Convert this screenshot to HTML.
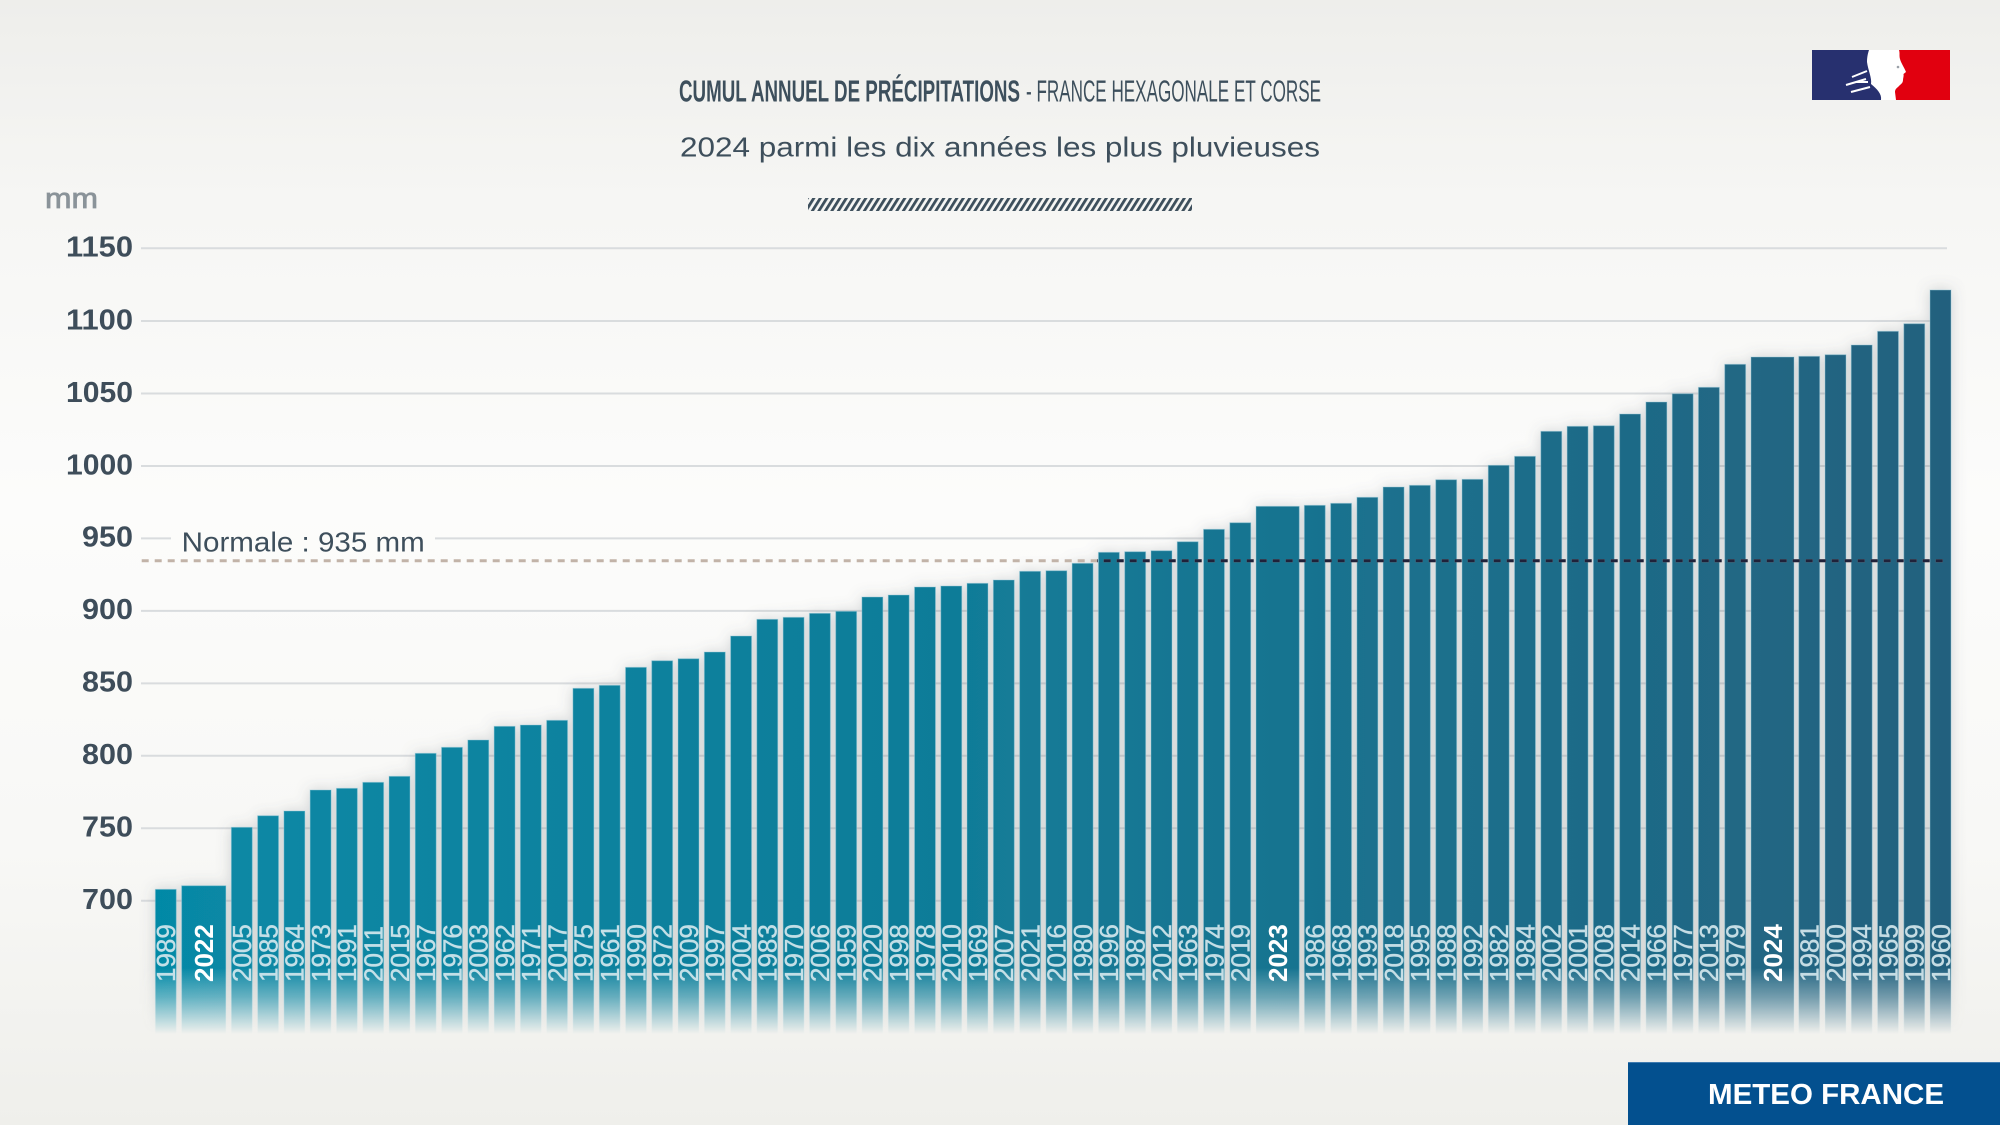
<!DOCTYPE html>
<html lang="fr">
<head>
<meta charset="utf-8">
<title>Cumul annuel de précipitations - France hexagonale et Corse</title>
<style>
  html,body{margin:0;padding:0;background:#f4f4f2;}
  body{width:2000px;height:1125px;overflow:hidden;}
  svg{display:block;font-family:"Liberation Sans",Arial,sans-serif;}
  .yl{font-size:29px;font-weight:bold;fill:#3e4d5a;text-anchor:end;}
  .yr{font-size:26px;fill:#d6e9ee;fill-opacity:0.9;stroke:#d6e9ee;stroke-opacity:0.6;stroke-width:0.6;}
  .yb{font-size:26px;fill:#ffffff;font-weight:bold;}
</style>
</head>
<body>
<svg width="2000" height="1125" viewBox="0 0 2000 1125" xmlns="http://www.w3.org/2000/svg">
  <defs>
    <linearGradient id="bg" x1="0" y1="0" x2="0" y2="1">
      <stop offset="0" stop-color="#eeeeeb"/>
      <stop offset="0.18" stop-color="#f6f6f4"/>
      <stop offset="0.45" stop-color="#fcfcfb"/>
      <stop offset="0.75" stop-color="#f8f8f6"/>
      <stop offset="1" stop-color="#efefeb"/>
    </linearGradient>
    <linearGradient id="bc" gradientUnits="userSpaceOnUse" x1="155" y1="0" x2="1951" y2="0">
      <stop offset="0" stop-color="#0689a6"/>
      <stop offset="0.45" stop-color="#117c98"/>
      <stop offset="0.7" stop-color="#1b708d"/>
      <stop offset="1" stop-color="#24617e"/>
    </linearGradient>
    <linearGradient id="fg" gradientUnits="userSpaceOnUse" x1="0" y1="968" x2="0" y2="1034">
      <stop offset="0" stop-color="#fff"/>
      <stop offset="0.45" stop-color="#9a9a9a"/>
      <stop offset="1" stop-color="#000"/>
    </linearGradient>
    <mask id="fade" maskUnits="userSpaceOnUse" x="0" y="0" width="2000" height="1125">
      <rect x="0" y="0" width="2000" height="1125" fill="url(#fg)"/>
    </mask>
    <filter id="sh" x="-5%" y="-10%" width="110%" height="125%">
      <feGaussianBlur in="SourceAlpha" stdDeviation="7"/>
      <feColorMatrix type="matrix" values="0 0 0 0 0.1  0 0 0 0 0.12  0 0 0 0 0.15  0 0 0 0.26 0"/>
      <feMerge><feMergeNode/><feMergeNode in="SourceGraphic"/></feMerge>
    </filter>
    <pattern id="hatch" patternUnits="userSpaceOnUse" width="6.5" height="13" patternTransform="skewX(-32)">
      <rect x="0" y="0" width="3.3" height="13" fill="#3d4f5c"/>
    </pattern>
    <clipPath id="darkclip"><rect x="1097" y="550" width="860" height="20"/></clipPath>
  </defs>

  <!-- background -->
  <rect x="0" y="0" width="2000" height="1125" fill="url(#bg)"/>

  <!-- title -->
  <text x="679" y="101.7" font-size="31" font-weight="bold" fill="#3d4f5c" textLength="341" lengthAdjust="spacingAndGlyphs">CUMUL ANNUEL DE PRÉCIPITATIONS</text>
  <text x="1026" y="101.7" font-size="31" fill="#3d4f5c" textLength="295" lengthAdjust="spacingAndGlyphs">- FRANCE HEXAGONALE ET CORSE</text>
  <text x="680" y="156.7" font-size="28" fill="#3e4f5c" textLength="640" lengthAdjust="spacingAndGlyphs">2024 parmi les dix années les plus pluvieuses</text>
  <rect x="808" y="198" width="384" height="13" fill="url(#hatch)"/>

  <!-- flag logo -->
  <rect x="1812" y="50" width="72" height="50" fill="#27306f"/>
  <rect x="1882" y="50" width="68" height="50" fill="#e1000f"/>
  <path d="M1869,50 L1899,50 C1900,53 1899,56 1900,59 C1901,63 1904,67 1906,72 L1903.5,74 C1904,76 1903,78 1903,80 C1903,83 1901,84 1899,86 C1897,88 1895,89 1895,92 L1896,100 L1881,100 C1882,94 1877,89 1871,84 C1872,78 1868,70 1867,62 C1867,57 1868,53 1869,50 Z" fill="#ffffff"/>
  <path d="M1852,77 L1867,71 M1846,85 L1866,79 M1851,92 L1870,87 M1856,82 L1868,82" stroke="#ffffff" stroke-width="2" fill="none"/>
  <circle cx="1898" cy="67" r="1.3" fill="#9aa0a8"/>

  <!-- y unit -->
  <text x="45" y="208" font-size="29" fill="#8a9399" stroke="#8a9399" stroke-width="0.8" textLength="53" lengthAdjust="spacingAndGlyphs">mm</text>

  <!-- gridlines -->
  <g stroke="#d9dcde" stroke-width="2">
    <line x1="141" y1="248.3" x2="1947" y2="248.3"/>
    <line x1="141" y1="321" x2="1947" y2="321"/>
    <line x1="141" y1="393.5" x2="1947" y2="393.5"/>
    <line x1="141" y1="466" x2="1947" y2="466"/>
    <line x1="141" y1="538.4" x2="171" y2="538.4"/>
    <line x1="435" y1="538.4" x2="1947" y2="538.4"/>
    <line x1="141" y1="610.9" x2="1947" y2="610.9"/>
    <line x1="141" y1="683.4" x2="1947" y2="683.4"/>
    <line x1="141" y1="755.8" x2="1947" y2="755.8"/>
    <line x1="141" y1="828.3" x2="1947" y2="828.3"/>
    <line x1="141" y1="900.7" x2="1947" y2="900.7"/>
  </g>

  <!-- y labels -->
  <text class="yl" x="133" y="256.6" textLength="67" lengthAdjust="spacingAndGlyphs">1150</text>
  <text class="yl" x="133" y="329.3" textLength="67" lengthAdjust="spacingAndGlyphs">1100</text>
  <text class="yl" x="133" y="401.8" textLength="67" lengthAdjust="spacingAndGlyphs">1050</text>
  <text class="yl" x="133" y="474.3" textLength="67" lengthAdjust="spacingAndGlyphs">1000</text>
  <text class="yl" x="133" y="546.7" textLength="51" lengthAdjust="spacingAndGlyphs">950</text>
  <text class="yl" x="133" y="619.2" textLength="51" lengthAdjust="spacingAndGlyphs">900</text>
  <text class="yl" x="133" y="691.7" textLength="51" lengthAdjust="spacingAndGlyphs">850</text>
  <text class="yl" x="133" y="764.1" textLength="51" lengthAdjust="spacingAndGlyphs">800</text>
  <text class="yl" x="133" y="836.6" textLength="51" lengthAdjust="spacingAndGlyphs">750</text>
  <text class="yl" x="133" y="909" textLength="51" lengthAdjust="spacingAndGlyphs">700</text>

  <!-- bars -->
  <g mask="url(#fade)">
   <g filter="url(#sh)" fill="url(#bc)" stroke="rgba(150,200,214,0.45)" stroke-width="1">
    <rect x="155.3" y="889.3" width="21" height="146.7"/>
    <rect x="181.6" y="885.7" width="44.3" height="150.3"/>
    <rect x="231.3" y="827.3" width="21" height="208.7"/>
    <rect x="257.6" y="815.7" width="21" height="220.3"/>
    <rect x="283.9" y="811" width="21" height="225"/>
    <rect x="310.1" y="790" width="21" height="246"/>
    <rect x="336.4" y="788.3" width="21" height="247.7"/>
    <rect x="362.7" y="782.3" width="21" height="253.7"/>
    <rect x="389.0" y="776.3" width="21" height="259.7"/>
    <rect x="415.2" y="753.3" width="21" height="282.7"/>
    <rect x="441.5" y="747.3" width="21" height="288.7"/>
    <rect x="467.8" y="740" width="21" height="296"/>
    <rect x="494.1" y="726.3" width="21" height="309.7"/>
    <rect x="520.3" y="725" width="21" height="311"/>
    <rect x="546.6" y="720.3" width="21" height="315.7"/>
    <rect x="572.9" y="688.3" width="21" height="347.7"/>
    <rect x="599.2" y="685.3" width="21" height="350.7"/>
    <rect x="625.5" y="667.3" width="21" height="368.7"/>
    <rect x="651.7" y="660.7" width="21" height="375.3"/>
    <rect x="678.0" y="658.7" width="21" height="377.3"/>
    <rect x="704.3" y="652" width="21" height="384"/>
    <rect x="730.6" y="636" width="21" height="400"/>
    <rect x="756.8" y="619.3" width="21" height="416.7"/>
    <rect x="783.1" y="617.3" width="21" height="418.7"/>
    <rect x="809.4" y="613.3" width="21" height="422.7"/>
    <rect x="835.7" y="611.3" width="21" height="424.7"/>
    <rect x="861.9" y="597" width="21" height="439"/>
    <rect x="888.2" y="595" width="21" height="441"/>
    <rect x="914.5" y="587" width="21" height="449"/>
    <rect x="940.8" y="586" width="21" height="450"/>
    <rect x="967.0" y="583.3" width="21" height="452.7"/>
    <rect x="993.3" y="580" width="21" height="456"/>
    <rect x="1019.6" y="571.3" width="21" height="464.7"/>
    <rect x="1045.9" y="570.7" width="21" height="465.3"/>
    <rect x="1072.1" y="563.3" width="21" height="472.7"/>
    <rect x="1098.4" y="552.3" width="21" height="483.7"/>
    <rect x="1124.7" y="551.7" width="21" height="484.3"/>
    <rect x="1151.0" y="550.7" width="21" height="485.3"/>
    <rect x="1177.2" y="541.7" width="21" height="494.3"/>
    <rect x="1203.5" y="529.3" width="21" height="506.7"/>
    <rect x="1229.8" y="522.7" width="21" height="513.3"/>
    <rect x="1256" y="506.3" width="43.3" height="529.7"/>
    <rect x="1304.3" y="505.3" width="21" height="530.7"/>
    <rect x="1330.6" y="503.3" width="21" height="532.7"/>
    <rect x="1356.9" y="497.3" width="21" height="538.7"/>
    <rect x="1383.1" y="487" width="21" height="549"/>
    <rect x="1409.4" y="485.3" width="21" height="550.7"/>
    <rect x="1435.7" y="479.7" width="21" height="556.3"/>
    <rect x="1462.0" y="479.3" width="21" height="556.7"/>
    <rect x="1488.2" y="465.3" width="21" height="570.7"/>
    <rect x="1514.5" y="456.3" width="21" height="579.7"/>
    <rect x="1540.8" y="431.3" width="21" height="604.7"/>
    <rect x="1567.1" y="426.3" width="21" height="609.7"/>
    <rect x="1593.3" y="425.7" width="21" height="610.3"/>
    <rect x="1619.6" y="414" width="21" height="622"/>
    <rect x="1645.9" y="402" width="21" height="634"/>
    <rect x="1672.2" y="393.7" width="21" height="642.3"/>
    <rect x="1698.4" y="387.3" width="21" height="648.7"/>
    <rect x="1724.7" y="364.3" width="21" height="671.7"/>
    <rect x="1751" y="357" width="43" height="679"/>
    <rect x="1798.7" y="356.3" width="21" height="679.7"/>
    <rect x="1825.0" y="354.7" width="21" height="681.3"/>
    <rect x="1851.2" y="345" width="21" height="691"/>
    <rect x="1877.5" y="331.3" width="21" height="704.7"/>
    <rect x="1903.8" y="323.7" width="21" height="712.3"/>
    <rect x="1930.0" y="290" width="21" height="746"/>
   </g>
  </g>

  <!-- normale -->
  <text x="181.7" y="551.7" font-size="28" fill="#3e4f5c" textLength="243" lengthAdjust="spacingAndGlyphs">Normale : 935 mm</text>
  <line x1="141.7" y1="560.7" x2="1947" y2="560.7" stroke="#c2b3a8" stroke-width="3" stroke-dasharray="7 6"/>
  <line x1="141.7" y1="560.7" x2="1947" y2="560.7" stroke="#20223a" stroke-width="3" stroke-dasharray="7 6" clip-path="url(#darkclip)"/>

  <!-- year labels -->
  <g>
    <text class="yr" transform="translate(165.8,982) rotate(-90)" dy="9.3">1989</text>
    <text class="yb" transform="translate(203.75,982) rotate(-90)" dy="9.3">2022</text>
    <text class="yr" transform="translate(241.8,982) rotate(-90)" dy="9.3">2005</text>
    <text class="yr" transform="translate(268.1,982) rotate(-90)" dy="9.3">1985</text>
    <text class="yr" transform="translate(294.4,982) rotate(-90)" dy="9.3">1964</text>
    <text class="yr" transform="translate(320.6,982) rotate(-90)" dy="9.3">1973</text>
    <text class="yr" transform="translate(346.9,982) rotate(-90)" dy="9.3">1991</text>
    <text class="yr" transform="translate(373.2,982) rotate(-90)" dy="9.3">2011</text>
    <text class="yr" transform="translate(399.5,982) rotate(-90)" dy="9.3">2015</text>
    <text class="yr" transform="translate(425.7,982) rotate(-90)" dy="9.3">1967</text>
    <text class="yr" transform="translate(452.0,982) rotate(-90)" dy="9.3">1976</text>
    <text class="yr" transform="translate(478.3,982) rotate(-90)" dy="9.3">2003</text>
    <text class="yr" transform="translate(504.6,982) rotate(-90)" dy="9.3">1962</text>
    <text class="yr" transform="translate(530.8,982) rotate(-90)" dy="9.3">1971</text>
    <text class="yr" transform="translate(557.1,982) rotate(-90)" dy="9.3">2017</text>
    <text class="yr" transform="translate(583.4,982) rotate(-90)" dy="9.3">1975</text>
    <text class="yr" transform="translate(609.7,982) rotate(-90)" dy="9.3">1961</text>
    <text class="yr" transform="translate(636.0,982) rotate(-90)" dy="9.3">1990</text>
    <text class="yr" transform="translate(662.2,982) rotate(-90)" dy="9.3">1972</text>
    <text class="yr" transform="translate(688.5,982) rotate(-90)" dy="9.3">2009</text>
    <text class="yr" transform="translate(714.8,982) rotate(-90)" dy="9.3">1997</text>
    <text class="yr" transform="translate(741.1,982) rotate(-90)" dy="9.3">2004</text>
    <text class="yr" transform="translate(767.3,982) rotate(-90)" dy="9.3">1983</text>
    <text class="yr" transform="translate(793.6,982) rotate(-90)" dy="9.3">1970</text>
    <text class="yr" transform="translate(819.9,982) rotate(-90)" dy="9.3">2006</text>
    <text class="yr" transform="translate(846.2,982) rotate(-90)" dy="9.3">1959</text>
    <text class="yr" transform="translate(872.4,982) rotate(-90)" dy="9.3">2020</text>
    <text class="yr" transform="translate(898.7,982) rotate(-90)" dy="9.3">1998</text>
    <text class="yr" transform="translate(925.0,982) rotate(-90)" dy="9.3">1978</text>
    <text class="yr" transform="translate(951.3,982) rotate(-90)" dy="9.3">2010</text>
    <text class="yr" transform="translate(977.5,982) rotate(-90)" dy="9.3">1969</text>
    <text class="yr" transform="translate(1003.8,982) rotate(-90)" dy="9.3">2007</text>
    <text class="yr" transform="translate(1030.1,982) rotate(-90)" dy="9.3">2021</text>
    <text class="yr" transform="translate(1056.4,982) rotate(-90)" dy="9.3">2016</text>
    <text class="yr" transform="translate(1082.6,982) rotate(-90)" dy="9.3">1980</text>
    <text class="yr" transform="translate(1108.9,982) rotate(-90)" dy="9.3">1996</text>
    <text class="yr" transform="translate(1135.2,982) rotate(-90)" dy="9.3">1987</text>
    <text class="yr" transform="translate(1161.5,982) rotate(-90)" dy="9.3">2012</text>
    <text class="yr" transform="translate(1187.7,982) rotate(-90)" dy="9.3">1963</text>
    <text class="yr" transform="translate(1214.0,982) rotate(-90)" dy="9.3">1974</text>
    <text class="yr" transform="translate(1240.3,982) rotate(-90)" dy="9.3">2019</text>
    <text class="yb" transform="translate(1277.65,982) rotate(-90)" dy="9.3">2023</text>
    <text class="yr" transform="translate(1314.8,982) rotate(-90)" dy="9.3">1986</text>
    <text class="yr" transform="translate(1341.1,982) rotate(-90)" dy="9.3">1968</text>
    <text class="yr" transform="translate(1367.4,982) rotate(-90)" dy="9.3">1993</text>
    <text class="yr" transform="translate(1393.6,982) rotate(-90)" dy="9.3">2018</text>
    <text class="yr" transform="translate(1419.9,982) rotate(-90)" dy="9.3">1995</text>
    <text class="yr" transform="translate(1446.2,982) rotate(-90)" dy="9.3">1988</text>
    <text class="yr" transform="translate(1472.5,982) rotate(-90)" dy="9.3">1992</text>
    <text class="yr" transform="translate(1498.7,982) rotate(-90)" dy="9.3">1982</text>
    <text class="yr" transform="translate(1525.0,982) rotate(-90)" dy="9.3">1984</text>
    <text class="yr" transform="translate(1551.3,982) rotate(-90)" dy="9.3">2002</text>
    <text class="yr" transform="translate(1577.6,982) rotate(-90)" dy="9.3">2001</text>
    <text class="yr" transform="translate(1603.8,982) rotate(-90)" dy="9.3">2008</text>
    <text class="yr" transform="translate(1630.1,982) rotate(-90)" dy="9.3">2014</text>
    <text class="yr" transform="translate(1656.4,982) rotate(-90)" dy="9.3">1966</text>
    <text class="yr" transform="translate(1682.7,982) rotate(-90)" dy="9.3">1977</text>
    <text class="yr" transform="translate(1708.9,982) rotate(-90)" dy="9.3">2013</text>
    <text class="yr" transform="translate(1735.2,982) rotate(-90)" dy="9.3">1979</text>
    <text class="yb" transform="translate(1772.5,982) rotate(-90)" dy="9.3">2024</text>
    <text class="yr" transform="translate(1809.2,982) rotate(-90)" dy="9.3">1981</text>
    <text class="yr" transform="translate(1835.5,982) rotate(-90)" dy="9.3">2000</text>
    <text class="yr" transform="translate(1861.7,982) rotate(-90)" dy="9.3">1994</text>
    <text class="yr" transform="translate(1888.0,982) rotate(-90)" dy="9.3">1965</text>
    <text class="yr" transform="translate(1914.3,982) rotate(-90)" dy="9.3">1999</text>
    <text class="yr" transform="translate(1940.5,982) rotate(-90)" dy="9.3">1960</text>
  </g>

  <!-- footer -->
  <rect x="1628" y="1062" width="372" height="63" fill="#03508f"/>
  <line x1="1628" y1="1062.5" x2="2000" y2="1062.5" stroke="#3f7bb0" stroke-width="1"/>
  <text x="1708" y="1104" font-size="29" font-weight="bold" fill="#ffffff" textLength="236" lengthAdjust="spacingAndGlyphs">METEO FRANCE</text>
</svg>
</body>
</html>
